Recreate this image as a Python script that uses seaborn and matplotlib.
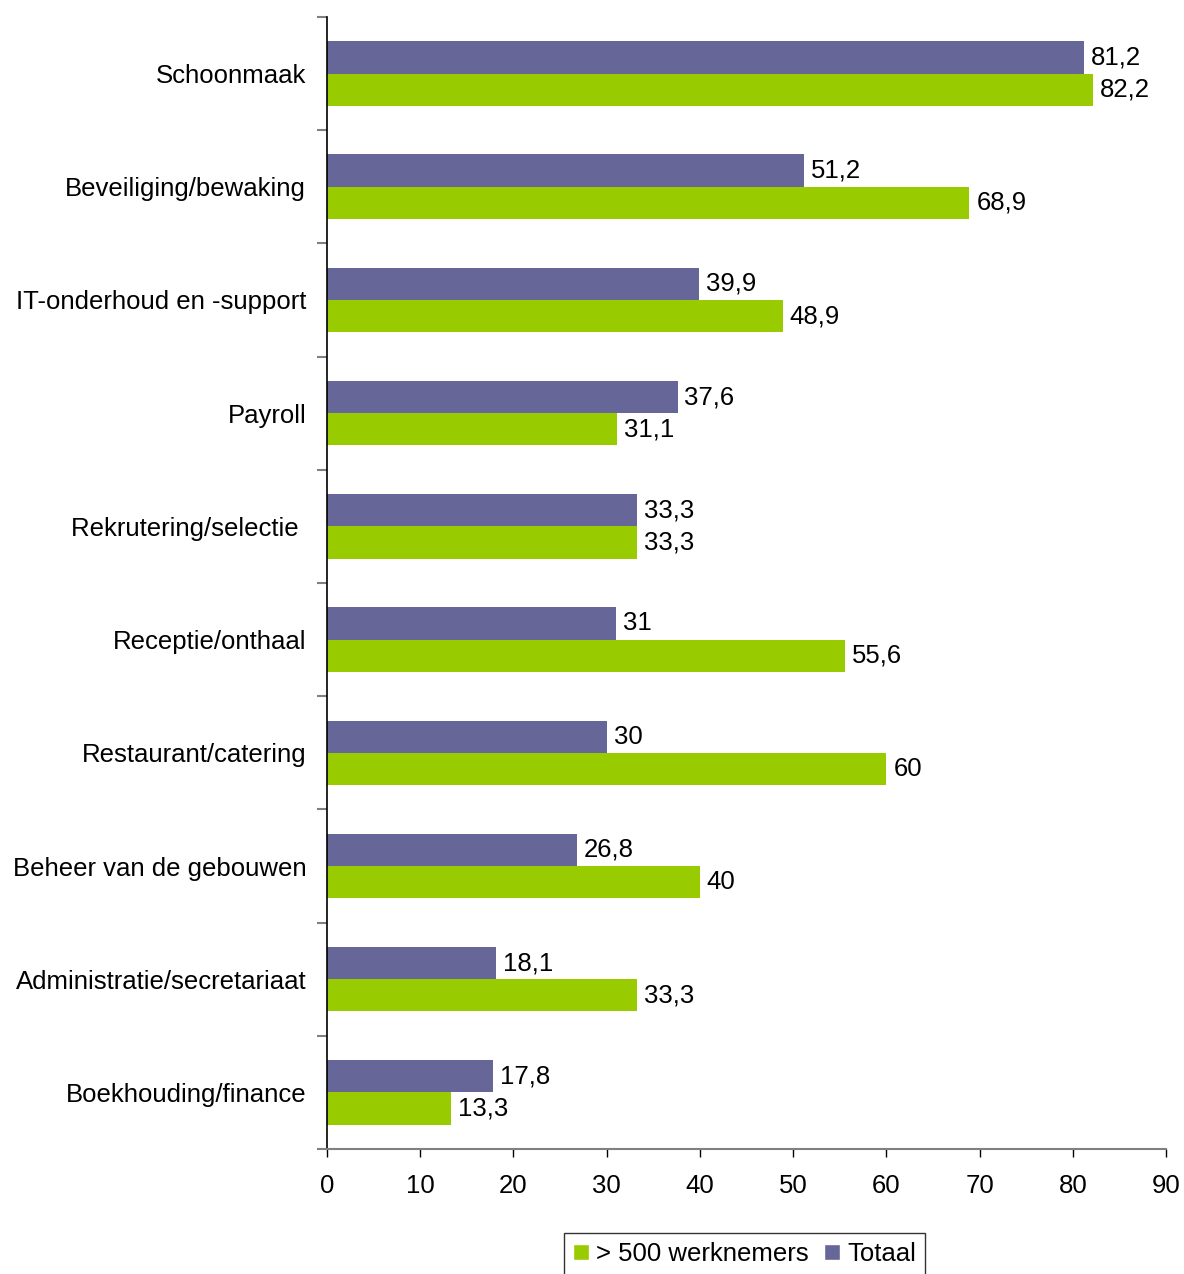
import matplotlib
matplotlib.use("Agg")
import matplotlib.pyplot as plt
import pandas as pd
import seaborn as sns
from matplotlib.patches import Patch

categories = ["Schoonmaak", "Beveiliging/bewaking", "IT-onderhoud en -support", "Payroll",
              "Rekrutering/selectie ", "Receptie/onthaal", "Restaurant/catering",
              "Beheer van de gebouwen", "Administratie/secretariaat", "Boekhouding/finance"]
totaal = [81.2, 51.2, 39.9, 37.6, 33.3, 31, 30, 26.8, 18.1, 17.8]
groot = [82.2, 68.9, 48.9, 31.1, 33.3, 55.6, 60, 40, 33.3, 13.3]
series = ["Totaal", "> 500 werknemers"]
colors = {"Totaal": "#666699", "> 500 werknemers": "#99CC00"}
xticks = [0, 10, 20, 30, 40, 50, 60, 70, 80, 90]

df = pd.DataFrame({
    "cat": categories * 2,
    "value": totaal + groot,
    "serie": ["Totaal"] * len(categories) + ["> 500 werknemers"] * len(categories),
})

sns.set_style("white")
plt.rcParams["font.family"] = ["Liberation Sans", "DejaVu Sans"]
plt.rcParams["text.color"] = "black"
plt.rcParams["xtick.color"] = "black"
plt.rcParams["ytick.color"] = "black"
fs = 18.5

fig = plt.figure(figsize=(11.84, 12.74), dpi=100)
ax = fig.add_axes([0.2762, 0.0981, 0.7086, 0.8886])

sns.barplot(data=df, x="value", y="cat", hue="serie", hue_order=series, order=categories,
            palette=colors, orient="h", width=0.57, gap=0, saturation=1, errorbar=None,
            legend=False, linewidth=0, ax=ax)

# data labels with decimal comma
for cont in ax.containers:
    labels = [f"{b.get_width():g}".replace(".", ",") for b in cont]
    ax.bar_label(cont, labels=labels, padding=5, fontsize=fs, color="black")

ax.set_xlim(0, 90)
ax.set_ylim(len(categories) - 0.5, -0.5)
ax.set_xticks(xticks)
ax.set_xticklabels([str(t) for t in xticks], fontsize=fs)
ax.tick_params(axis="x", length=6, width=1, color="black", labelcolor="black", pad=12,
               direction="out", bottom=True)

# tick marks at category boundaries, labels in the middle
ax.set_yticks([i - 0.5 for i in range(len(categories) + 1)])
ax.set_yticklabels([])
ax.set_yticks(range(len(categories)), minor=True)
ax.set_yticklabels(categories, minor=True, fontsize=fs)
ax.tick_params(axis="y", which="major", length=7, width=1.5, color="#808080", direction="out", left=True)
ax.tick_params(axis="y", which="minor", length=0, pad=15, labelcolor="black")
ax.set_xlabel("")
ax.set_ylabel("")

for s in ["top", "right"]:
    ax.spines[s].set_visible(False)
ax.spines["left"].set_color("black")
ax.spines["left"].set_linewidth(1.2)
ax.spines["bottom"].set_color("#808080")
ax.spines["bottom"].set_linewidth(1.5)
ax.grid(False)

handles = [Patch(facecolor=colors["> 500 werknemers"]), Patch(facecolor=colors["Totaal"])]
leg = fig.legend(handles, ["> 500 werknemers", "Totaal"], loc="center", bbox_to_anchor=(0.629, 0.0155),
                 ncol=2, fontsize=fs, frameon=True, fancybox=False, handlelength=0.6, handleheight=0.6,
                 handletextpad=0.3, columnspacing=0.6, borderpad=0.35, borderaxespad=0)
leg.get_frame().set_edgecolor("black")
leg.get_frame().set_linewidth(1)

fig.savefig("out.png", dpi=100)
